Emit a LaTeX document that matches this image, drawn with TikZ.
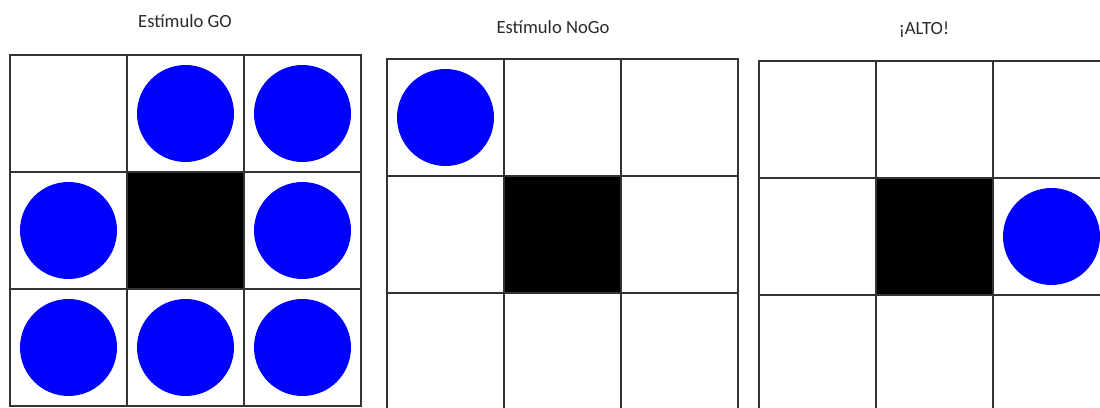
\documentclass[tikz,border=0pt]{standalone}
\usepackage{fontspec}
\setmainfont{Carlito}
\usetikzlibrary{positioning}
\definecolor{dotBlue}{HTML}{0000FF}
\definecolor{gridGray}{HTML}{333333}
\definecolor{titleGray}{HTML}{2A2A2A}
\tikzstyle{cell} = [rectangle, draw=gridGray, line width=1.1pt, minimum size=2.34cm,
  inner sep=0pt, outer sep=0pt]
\tikzstyle{midcell} = [cell, fill=black]
\tikzstyle{dot} = [circle, fill=dotBlue, minimum size=1.94cm, inner sep=0pt]
\tikzstyle{title} = [font=\fontsize{10.6}{12}\selectfont, text=titleGray]

\begin{document}
\begin{tikzpicture}[x=0.02cm, y=-0.02cm]
  \useasboundingbox (0,0) rectangle (1100,408);
  \clip (0,0) rectangle (1100,408);

  % Titles
  \node[title] (tGo) at (185,21) {Estímulo GO};
  \node[title] (tNogo) at (553,27) {Estímulo NoGo};
  \node[title] (tAlto) at (924,30) {¡ALTO!};

  % Grid 1: GO
  \foreach \r in {0,1,2} {
    \foreach \c in {0,1,2} {
      \node[cell] (go-\r\c) at (68.5+117*\c, 113.5+117*\r) {};
    }
  }
  \node[midcell] (goMid) at (go-11) {};

  % Grid 2: NoGo
  \foreach \r in {0,1,2} {
    \foreach \c in {0,1,2} {
      \node[cell] (nogo-\r\c) at (445.5+117*\c, 117.5+117*\r) {};
    }
  }
  \node[midcell] (nogoMid) at (nogo-11) {};

  % Grid 3: ALTO
  \foreach \r in {0,1,2} {
    \foreach \c in {0,1,2} {
      \node[cell] (alto-\r\c) at (817.5+117*\c, 119.5+117*\r) {};
    }
  }
  \node[midcell] (altoMid) at (alto-11) {};

  % Blue dots
  \foreach \pos in {go-01, go-02, go-10, go-12, go-20, go-21, go-22, nogo-00, alto-12} {
    \node[dot] (d-\pos) at (\pos) {};
  }
\end{tikzpicture}
\end{document}
